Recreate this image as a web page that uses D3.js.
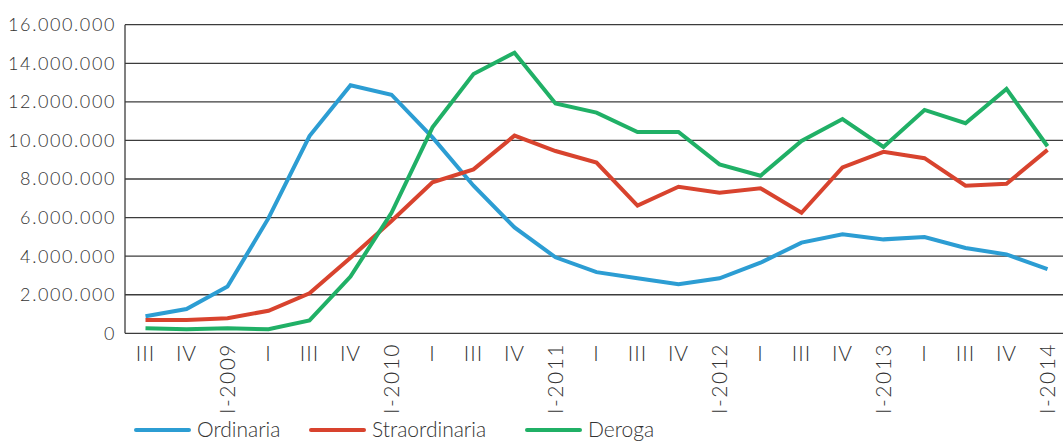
<!DOCTYPE html>
<html>
<head>
<meta charset="utf-8">
<script src="https://cdn.jsdelivr.net/npm/d3@7"></script>
<style>
  body { margin: 0; background: #fff; }
  svg text { font-family: Lato, "Open Sans", sans-serif; font-weight: 300; fill: #333; }
</style>
</head>
<body>
<div id="chart"></div>
<script>
// quarter labels as printed on the axis
const categories = ['III', 'IV', 'I-2009', 'I', 'III', 'IV', 'I-2010', 'I', 'III', 'IV', 'I-2011',
  'I', 'III', 'IV', 'I-2012', 'I', 'III', 'IV', 'I-2013', 'I', 'III', 'IV', 'I-2014'];

const ordinaria = [880000, 1260000, 2420000, 5970000, 10230000, 12860000, 12370000, 10160000,
  7650000, 5490000, 3940000, 3170000, 2850000, 2540000, 2850000, 3660000, 4700000, 5130000,
  4870000, 4990000, 4420000, 4090000, 3330000];
const straordinaria = [690000, 690000, 780000, 1170000, 2070000, 3920000, 5820000, 7830000,
  8500000, 10250000, 9450000, 8850000, 6620000, 7600000, 7290000, 7520000, 6250000, 8600000,
  9410000, 9080000, 7650000, 7750000, 9510000];
const deroga = [260000, 210000, 260000, 210000, 670000, 2940000, 6250000, 10680000, 13440000,
  14550000, 11920000, 11440000, 10440000, 10440000, 8760000, 8170000, 9970000, 11110000,
  9660000, 11580000, 10890000, 12670000, 9700000];

const yTicks = [0, 2000000, 4000000, 6000000, 8000000, 10000000, 12000000, 14000000, 16000000];

const series = [
  {name: 'Ordinaria', values: ordinaria, color: '#2c9dd3'},
  {name: 'Straordinaria', values: straordinaria, color: '#d8432e'},
  {name: 'Deroga', values: deroga, color: '#20b066'}
];

const W = 1063, H = 443;
const plotLeft = 125, plotTop = 24.7, plotBottom = 333.3;

const svg = d3.select('#chart').append('svg')
  .attr('width', W)
  .attr('height', H);

// step ~41px, runs a bit past the right edge like the original
const x = d3.scaleBand()
  .domain(d3.range(categories.length))
  .range([plotLeft, plotLeft + 41 * categories.length]);

const y = d3.scaleLinear()
  .domain([0, 16000000])
  .range([plotBottom, plotTop]);

const fmt = d => d3.format(',')(d).replace(/,/g, '.');
const cx = i => x(i) + x.bandwidth() / 2;

// grid
svg.append('g')
  .selectAll('line')
  .data(yTicks)
  .join('line')
  .attr('x1', plotLeft)
  .attr('x2', W)
  .attr('y1', d => y(d))
  .attr('y2', d => y(d))
  .attr('stroke', '#3c3c3c')
  .attr('stroke-width', 1.3);

svg.append('line')
  .attr('x1', plotLeft).attr('x2', plotLeft)
  .attr('y1', plotTop).attr('y2', plotBottom)
  .attr('stroke', '#3c3c3c')
  .attr('stroke-width', 1.3);

// y labels
svg.append('g')
  .selectAll('text')
  .data(yTicks)
  .join('text')
  .attr('x', 116)
  .attr('y', d => y(d))
  .attr('dy', '0.36em')
  .attr('text-anchor', 'end')
  .style('font-size', '18px')
  .style('letter-spacing', '1.6px')
  .text(fmt);

// x labels: year labels rotated, the others flat
const xl = svg.append('g');
categories.forEach((c, i) => {
  if (c.includes('-')) {
    xl.append('text')
      .attr('transform', `translate(${cx(i)},343) rotate(-90)`)
      .attr('dy', '0.36em')
      .attr('text-anchor', 'end')
      .style('font-size', '21px')
      .style('letter-spacing', '1.5px')
      .text(c);
  } else {
    xl.append('text')
      .attr('x', cx(i))
      .attr('y', 361)
      .attr('text-anchor', 'middle')
      .style('font-size', '21px')
      .style('letter-spacing', '1px')
      .text(c);
  }
});

const line = d3.line()
  .x((d, i) => cx(i))
  .y(d => y(d));

svg.append('g')
  .selectAll('path')
  .data(series)
  .join('path')
  .attr('d', d => line(d.values))
  .attr('fill', 'none')
  .attr('stroke', d => d.color)
  .attr('stroke-width', 4)
  .attr('stroke-linejoin', 'miter');

// legend (nudged up a few px so the text isn't clipped by the bottom edge)
const legendX = [136, 311, 527];
const lg = svg.append('g')
  .selectAll('g')
  .data(series)
  .join('g')
  .attr('transform', (d, i) => `translate(${legendX[i]},430)`);
lg.append('line')
  .attr('x1', 0).attr('x2', 53)
  .attr('stroke', d => d.color)
  .attr('stroke-width', 4)
  .attr('stroke-linecap', 'round');
lg.append('text')
  .attr('x', 61)
  .attr('y', 7)
  .style('font-size', '21px')
  .text(d => d.name);
</script>
</body>
</html>
